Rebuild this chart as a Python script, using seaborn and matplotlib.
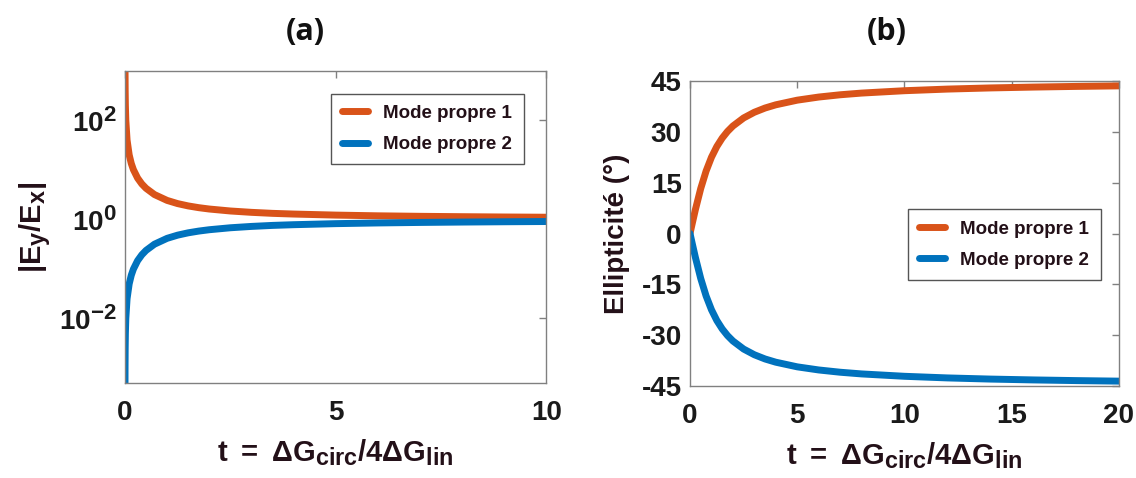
import matplotlib
matplotlib.use("Agg")
import matplotlib.pyplot as plt
import matplotlib._mathtext as mt
import seaborn as sns
import pandas as pd

# panel (a): |Ey/Ex| of both eigenmodes vs t
t_a = [0.001, 0.002, 0.005, 0.01, 0.02, 0.05, 0.1, 0.15, 0.2, 0.3, 0.4, 0.5,
       0.7, 1.0, 1.25, 1.5, 1.75, 2.0, 2.5, 3.0, 3.5, 4.0, 5.0, 6.0, 7.0, 8.0,
       9.0, 10.0]
ratio_mode1 = [2000, 1000, 400, 200, 100.0, 40.0, 20.05, 13.41, 10.10, 6.81,
               5.19, 4.24, 3.17, 2.414, 2.081, 1.869, 1.723, 1.618, 1.477,
               1.387, 1.323, 1.281, 1.220, 1.180, 1.153, 1.133, 1.117, 1.105]
ratio_mode2 = [0.0005, 0.001, 0.0025, 0.005, 0.01, 0.025, 0.0499, 0.0746,
               0.0990, 0.1468, 0.1926, 0.2361, 0.3155, 0.4142, 0.4805, 0.5352,
               0.5803, 0.6180, 0.6770, 0.7208, 0.7557, 0.7808, 0.8198, 0.8471,
               0.8672, 0.8827, 0.8951, 0.9050]

# panel (b): ellipticity (deg) vs t
t_b = [0, 0.1, 0.25, 0.5, 0.75, 1.0, 1.25, 1.5, 1.75, 2.0, 2.5, 3.0, 3.5, 4.0,
       5.0, 6.0, 7.0, 8.0, 10.0, 12.0, 14.0, 16.0, 18.0, 20.0]
ell_mode1 = [0, 2.85, 7.02, 13.28, 18.43, 22.5, 25.67, 28.15, 30.13, 31.72,
             34.10, 35.78, 37.03, 37.98, 39.35, 40.27, 40.94, 41.44, 42.14,
             42.62, 42.96, 43.21, 43.41, 43.57]
ell_mode2 = [0, -2.85, -7.02, -13.28, -18.43, -22.5, -25.67, -28.15, -30.13,
             -31.72, -34.10, -35.78, -37.03, -37.98, -39.35, -40.27, -40.94,
             -41.44, -42.14, -42.62, -42.96, -43.21, -43.41, -43.57]

labels = ["Mode propre 1", "Mode propre 2"]
colors = ["#D95319", "#0072BD"]

sns.set_style("white")
plt.rcParams["font.family"] = ["Liberation Sans", "DejaVu Sans"]
plt.rcParams["font.weight"] = "bold"
plt.rcParams["axes.labelweight"] = "bold"
plt.rcParams["mathtext.fontset"] = "custom"
plt.rcParams["mathtext.rm"] = "Liberation Sans:bold"
plt.rcParams["mathtext.bf"] = "Liberation Sans:bold"
plt.rcParams["mathtext.it"] = "Liberation Sans:bold"
plt.rcParams["mathtext.default"] = "bf"
plt.rcParams["axes.unicode_minus"] = False
# larger sub/superscripts, closer to the original
mt.SHRINK_FACTOR = 0.8

text_col = "#231018"
spine_col = "#808080"

df_a = pd.DataFrame({"t": t_a * 2,
                     "val": ratio_mode1 + ratio_mode2,
                     "mode": [labels[0]] * len(t_a) + [labels[1]] * len(t_a)})
df_b = pd.DataFrame({"t": t_b * 2,
                     "val": ell_mode1 + ell_mode2,
                     "mode": [labels[0]] * len(t_b) + [labels[1]] * len(t_b)})

fig = plt.figure(figsize=(11.36, 4.78), dpi=100)
ax1 = fig.add_axes([0.110, 0.198, 0.371, 0.654])
ax2 = fig.add_axes([0.6074, 0.1925, 0.3776, 0.638])

sns.lineplot(data=df_a, x="t", y="val", hue="mode", palette=colors,
             linewidth=5, ax=ax1, sort=False)
ax1.set_yscale("log")
ax1.set_xlim(0, 10)
ax1.set_ylim(4.9e-4, 1e3)
ax1.set_xticks([0, 5, 10])
ax1.set_yticks([1e-2, 1e0, 1e2])
ax1.set_yticklabels([r"$10^{-2}$", r"$10^{0}$", r"$10^{2}$"])
ax1.minorticks_off()
ax1.set_ylabel(r"$|E_y/E_x|$", fontsize=21, color=text_col, labelpad=4)

sns.lineplot(data=df_b, x="t", y="val", hue="mode", palette=colors,
             linewidth=5, ax=ax2, sort=False)
ax2.set_xlim(0, 20)
ax2.set_ylim(-45, 45)
ax2.set_xticks([0, 5, 10, 15, 20])
ax2.set_yticks([-45, -30, -15, 0, 15, 30, 45])
ax2.set_ylabel("Ellipticité (°)", fontsize=20, fontweight="bold",
               color=text_col, labelpad=8)

xlab = r"$t\ =\ \Delta G_{circ}/4\Delta G_{lin}$"
for ax, anchor in [(ax1, (0.968, 0.957)), (ax2, (0.979, 0.610))]:
    ax.set_xlabel(xlab, fontsize=21, color=text_col, labelpad=8)
    for s in ax.spines.values():
        s.set_visible(True)
        s.set_color(spine_col)
        s.set_linewidth(1.0)
    ax.tick_params(direction="in", length=5, width=1, color=spine_col,
                   top=True, right=True, labelsize=20, labelcolor="#1a1a1a")
    ax.tick_params(axis="x", pad=12)
    ax.tick_params(axis="y", pad=6)
    for lab in ax.get_xticklabels() + ax.get_yticklabels():
        lab.set_fontweight("bold")
    leg = ax.legend(loc="upper right", bbox_to_anchor=anchor, fontsize=13.5,
                    frameon=True, fancybox=False, framealpha=1,
                    edgecolor="#555555", handlelength=1.4, handletextpad=0.8,
                    labelspacing=0.75, borderpad=0.6, title=None)
    leg.get_frame().set_linewidth(1.0)
    for txt in leg.get_texts():
        txt.set_color(text_col)
        txt.set_fontweight("bold")
    for line in leg.get_lines():
        line.set_linewidth(5)

for xpos, tag in [(305, "(a)"), (887, "(b)")]:
    fig.text(xpos / 1136, 1 - 32 / 478, tag, fontsize=22, fontweight="bold",
             family=["Open Sans", "DejaVu Sans"], ha="center", va="center",
             color="#111111")

fig.savefig("out.png", dpi=100, facecolor="white")
